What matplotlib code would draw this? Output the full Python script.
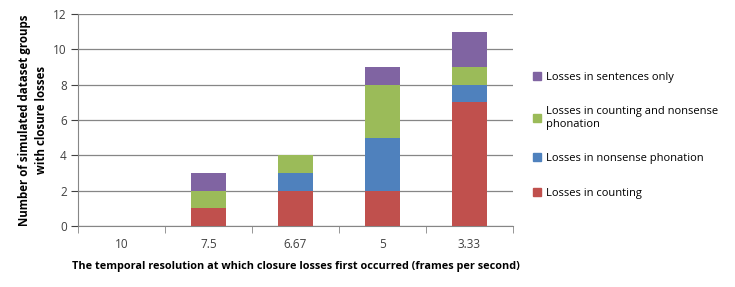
import matplotlib.pyplot as plt
import numpy as np
from matplotlib.patches import Patch

categories = ["10", "7.5", "6.67", "5", "3.33"]
counting = [0, 1, 2, 2, 7]
nonsense = [0, 0, 1, 3, 1]
counting_nonsense = [0, 1, 1, 3, 1]
sentences = [0, 1, 0, 1, 2]

series = [
    ("Losses in counting", counting, "#C0504D"),
    ("Losses in nonsense phonation", nonsense, "#4F81BD"),
    ("Losses in counting and nonsense\nphonation", counting_nonsense, "#9BBB59"),
    ("Losses in sentences only", sentences, "#8064A2"),
]

plt.rcParams["font.family"] = ["Open Sans", "DejaVu Sans"]

fig = plt.figure(figsize=(7.35, 2.87), dpi=100)
ax = fig.add_axes([78 / 735, 1 - 226 / 287, 435 / 735, 212 / 287])

x = np.arange(len(categories))
bottom = np.zeros(len(categories))
for name, vals, color in series:
    ax.bar(x, vals, width=0.4, bottom=bottom, color=color, zorder=3)
    bottom += np.array(vals)

ax.set_xlim(-0.5, len(categories) - 0.5)
ax.set_ylim(0, 12)
ax.set_yticks(range(0, 13, 2))
ax.yaxis.grid(True, color="#868686", linewidth=0.9, zorder=0)
ax.set_xticks(x)
ax.set_xticklabels(categories)
ax.set_xticks(np.arange(-0.5, len(categories)), minor=True)
ax.tick_params(axis="x", which="major", length=0, pad=9)
ax.tick_params(axis="x", which="minor", length=5, color="#868686")
ax.tick_params(axis="y", length=5, color="#868686", pad=3)
ax.tick_params(labelsize=8.5, colors="#404040")
for s in ["top", "right"]:
    ax.spines[s].set_visible(False)
for s in ["left", "bottom"]:
    ax.spines[s].set_color("#868686")

ax.set_xlabel("The temporal resolution at which closure losses first occurred (frames per second)",
              fontsize=7.8, fontweight="bold", labelpad=7)
ax.set_ylabel("Number of simulated dataset groups\nwith closure losses",
              fontsize=8.3, fontweight="bold", labelpad=4, linespacing=1.4)

handles = [Patch(color=c, label=n) for n, v, c in series[::-1]]
fig.legend(handles=handles, loc="upper left", bbox_to_anchor=(523 / 735, 1 - 62 / 287),
           frameon=False, fontsize=8, handlelength=0.7, handleheight=0.7,
           handletextpad=0.5, labelspacing=2.1)

fig.savefig("out.png", dpi=100)
